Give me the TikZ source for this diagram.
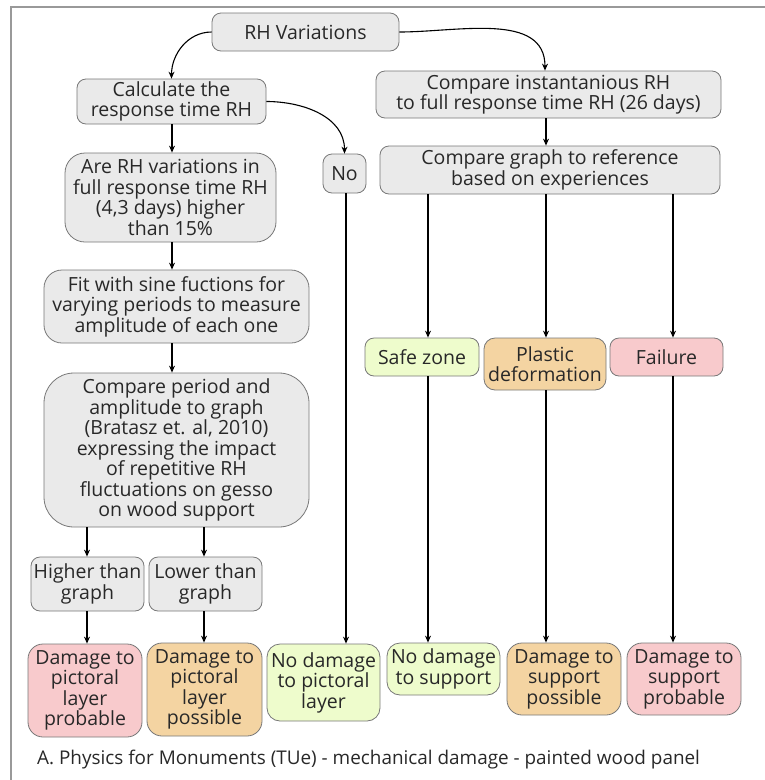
\documentclass[tikz,border=0pt]{standalone}
\usepackage{fontspec}
\setmainfont{Open Sans}
\usepackage{xcolor}
\usetikzlibrary{arrows.meta, positioning, calc}
\definecolor{boxgrey}{RGB}{234,234,234}
\definecolor{boxred}{RGB}{248,202,204}
\definecolor{boxorange}{RGB}{244,212,162}
\definecolor{boxgreen}{RGB}{238,252,204}
\definecolor{boxline}{RGB}{120,120,120}
\definecolor{textgrey}{RGB}{40,40,40}
\tikzset{
    box/.style={draw=boxline, line width=0.8pt, rounded corners=9pt, align=center,
        inner sep=1pt, text=textgrey, font=\fontsize{19.5}{20.5}\selectfont},
    wh/.style 2 args={minimum width=#1pt, minimum height=#2pt},
    grey_box/.style={box, fill=boxgrey},
    red_box/.style={box, fill=boxred, rounded corners=15pt},
    orange_box/.style={box, fill=boxorange, rounded corners=15pt},
    green_box/.style={box, fill=boxgreen, rounded corners=13pt},
    link/.style={-{Stealth[length=7pt,width=6pt]}, line width=1.1pt},
    frame_line/.style={draw=gray!80, line width=2pt}
}

\begin{document}
\begin{tikzpicture}[x=1pt, y=-1pt]
    \useasboundingbox (0,0) rectangle (764,780);
    % frame
    \draw[frame_line] (11,790) -- (11,7) -- (775,7);
    % start
    \node[grey_box, wh={187}{38}] (rh) at (305.5,32) {RH Variations};
    % left branch
    \node[grey_box, wh={189}{45}] (calc) at (171.5,101.5) {Calculate the\\response time RH};
    \node[grey_box, wh={211}{89}, rounded corners=20pt] (are) at (170.5,197.5)
        {Are RH variations in\\full response time RH\\(4,3 days) higher\\than 15\%};
    \node[grey_box, wh={43}{39}] (no) at (344.5,173.5) {No};
    \node[grey_box, wh={265}{73}, rounded corners=18pt] (fit) at (176.5,306.5)
        {Fit with sine fuctions for\\varying periods to measure\\amplitude of each one};
    \node[grey_box, wh={265}{154}, rounded corners=30pt] (period) at (176.5,450)
        {Compare period and\\amplitude to graph\\(Bratasz et. al, 2010)\\expressing the impact\\of repetitive RH\\fluctuations on gesso\\on wood support};
    \node[grey_box, wh={113}{54}] (higher) at (87.5,584) {Higher than\\graph};
    \node[grey_box, wh={113}{54}] (lower) at (205.5,584) {Lower than\\graph};
    % right branch
    \node[grey_box, wh={345}{47}] (inst) at (548.5,94.5) {Compare instantanious RH\\to full response time RH (26 days)};
    \node[grey_box, wh={340}{48}] (graph) at (550,170) {Compare graph to reference\\based on experiences};
    \node[green_box, wh={114}{38}, rounded corners=9pt] (safe) at (422,357) {Safe zone};
    \node[orange_box, wh={122}{52}, rounded corners=11pt] (plastic) at (545,364) {Plastic\\deformation};
    \node[red_box, wh={113}{38}, rounded corners=9pt] (failure) at (666.5,357) {Failure};
    % outcomes
    \node[red_box, wh={114}{93}] (dmg_pic_prob) at (85,690.5) {Damage to\\pictoral\\layer\\probable};
    \node[orange_box, wh={115}{93}] (dmg_pic_poss) at (204.5,689.5) {Damage to\\pictoral\\layer\\possible};
    \node[green_box, wh={113}{77}] (no_dmg_pic) at (323.5,682.5) {No damage\\to pictoral\\layer};
    \node[green_box, wh={113}{52}] (no_dmg_sup) at (443.5,669) {No damage\\to support};
    \node[orange_box, wh={114}{72}] (dmg_sup_poss) at (564,679) {Damage to\\support\\possible};
    \node[red_box, wh={114}{72}] (dmg_sup_prob) at (684,679) {Damage to\\support\\probable};
    % caption
    \node[anchor=west, text=textgrey, font=\fontsize{18.9}{20}\selectfont, inner sep=0pt] (caption) at (37,760)
        {A. Physics for Monuments (TUe) - mechanical damage - painted wood panel};
    % columns for the straight links
    \coordinate (col_a) at (172,0);
    \coordinate (col_b) at (87,0);
    \coordinate (col_c) at (204,0);
    \coordinate (col_d) at (346,0);
    \coordinate (col_e) at (428,0);
    \coordinate (col_f) at (546,0);
    \coordinate (col_g) at (673,0);
    \coordinate (col_h) at (545,0);
    % curved links
    \draw[link] (rh.west) to[out=180, in=90] (calc.north);
    \draw[link] (rh.east) to[out=0, in=90] (inst.north -| col_h);
    \draw[link] (calc.east) to[out=0, in=90] (no.north);
    % left column
    \draw[link] (calc.south -| col_a) -- (are.north -| col_a);
    \draw[link] (are.south -| col_a) -- (fit.north -| col_a);
    \draw[link] (fit.south -| col_a) -- (period.north -| col_a);
    \draw[link] (period.south -| col_b) -- (higher.north -| col_b);
    \draw[link] (period.south -| col_c) -- (lower.north -| col_c);
    \draw[link] (higher.south -| col_b) -- (dmg_pic_prob.north -| col_b);
    \draw[link] (lower.south -| col_c) -- (dmg_pic_poss.north -| col_c);
    \draw[link] (no.south -| col_d) -- (no_dmg_pic.north -| col_d);
    % right column
    \draw[link] (inst.south -| col_f) -- (graph.north -| col_f);
    \draw[link] (graph.south -| col_e) -- (safe.north -| col_e);
    \draw[link] (graph.south -| col_f) -- (plastic.north -| col_f);
    \draw[link] (graph.south -| col_g) -- (failure.north -| col_g);
    \draw[link] (safe.south -| col_e) -- (no_dmg_sup.north -| col_e);
    \draw[link] (plastic.south -| col_f) -- (dmg_sup_poss.north -| col_f);
    \draw[link] (failure.south -| col_g) -- (dmg_sup_prob.north -| col_g);
\end{tikzpicture}
\end{document}
